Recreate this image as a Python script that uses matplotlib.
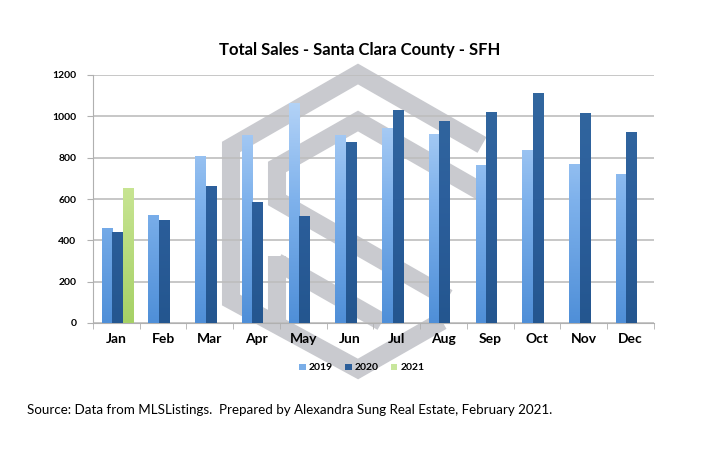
import numpy as np
import matplotlib.pyplot as plt
from matplotlib.colors import LinearSegmentedColormap
from matplotlib.lines import Line2D
from matplotlib.patches import Patch

months = ['Jan', 'Feb', 'Mar', 'Apr', 'May', 'Jun', 'Jul', 'Aug', 'Sep', 'Oct', 'Nov', 'Dec']
sales_2019 = [458, 518, 808, 909, 1063, 909, 942, 913, 760, 837, 769, 719]
sales_2020 = [437, 498, 659, 582, 514, 872, 1027, 974, 1018, 1111, 1015, 921]
sales_2021 = [652]
series = ['2019', '2020', '2021']

W, H = 719, 455
fig = plt.figure(figsize=(W / 100, H / 100), dpi=100)
fig.patch.set_facecolor('white')
ax = fig.add_axes([93 / W, 1 - 323 / H, (654 - 93) / W, (323 - 75) / H])
ax.patch.set_alpha(0)

# watermark logo behind the chart (pixel coords, y down)
def px(pts):
    return [p[0] / W for p in pts], [1 - p[1] / H for p in pts]

wm = '#c9cacf'
strokes = [
    [(482, 145), (358, 74), (231, 147), (231, 300), (358, 369), (442, 321)],
    [(487, 195), (358, 121), (277, 167), (277, 200), (448, 298)],
    [(277, 256), (277, 326)],
    [(277, 262), (382, 322)],
]
for s in strokes:
    xs, ys = px(s)
    fig.add_artist(Line2D(xs, ys, color=wm, lw=13, solid_joinstyle='miter',
                          solid_capstyle='butt', zorder=-1))

x = np.arange(len(months))
w = 0.225
shift = 0.02

cm19 = LinearSegmentedColormap.from_list('c19', ['#4f8fd8', '#7fb2ec', '#c2dcfa'])
cm20 = LinearSegmentedColormap.from_list('c20', ['#24568f', '#2c5f9c', '#33689f'])
cm21 = LinearSegmentedColormap.from_list('c21', ['#a6d166', '#c5e38f', '#e0f3b2'])

def grad_bars(xpos, vals, cmap):
    bars = ax.bar(xpos, vals, width=w, color='none', zorder=3)
    grad = np.linspace(0, 1, 256).reshape(-1, 1)
    for b in bars:
        bx, by = b.get_x(), b.get_y()
        bw, bh = b.get_width(), b.get_height()
        ax.imshow(grad, cmap=cmap, origin='lower', aspect='auto',
                  extent=[bx, bx + bw, by, by + bh], zorder=3,
                  vmin=0, vmax=1200 / bh if bh else 1)
    return bars

grad_bars(x - w + shift, sales_2019, cm19)
grad_bars(x + shift, sales_2020, cm20)
grad_bars(x[:len(sales_2021)] + w + shift, sales_2021, cm21)

ax.set_xlim(-0.5, len(months) - 0.5)
ax.set_ylim(0, 1200)
ax.set_yticks(range(0, 1201, 200))
ax.yaxis.grid(True, color='#bdbdbd', lw=1.2, zorder=1)
ax.set_axisbelow(True)

for sp in ['top', 'right']:
    ax.spines[sp].set_visible(False)
ax.spines['left'].set_color('#b0b0b0')
ax.spines['bottom'].set_color('#b0b0b0')

ax.set_xticks(x)
ax.set_xticklabels(months, fontsize=10, fontweight='bold', family='Lato')
ax.tick_params(axis='x', length=0, pad=7)
ax.set_xticks(np.arange(-0.5, len(months)), minor=True)
ax.tick_params(axis='x', which='minor', length=4, color='#b0b0b0', direction='out')
ax.tick_params(axis='y', length=4, color='#b0b0b0', labelsize=7.5, pad=8)
for lab in ax.get_yticklabels():
    lab.set_fontweight('bold')
    lab.set_family('Lato')

fig.text(360 / W, 1 - 50 / H, 'Total Sales - Santa Clara County - SFH',
         ha='center', va='center', fontsize=12, fontweight='bold', family='Lato')

handles = [Patch(facecolor='#7aaee8'), Patch(facecolor='#2b5e99'), Patch(facecolor='#c8e69c')]
fig.legend(handles, series, loc='center', bbox_to_anchor=(362 / W, 1 - 368 / H),
           ncol=3, frameon=False, handlelength=0.6, handleheight=0.6,
           handletextpad=0.3, columnspacing=1.2,
           prop={'family': 'Lato', 'weight': 'bold', 'size': 7.5})

fig.text(27 / W, 1 - 410 / H,
         'Source: Data from MLSListings.  Prepared by Alexandra Sung Real Estate, February 2021.',
         ha='left', va='center', fontsize=9.6, family='Lato')

fig.savefig('out.png', dpi=100)
